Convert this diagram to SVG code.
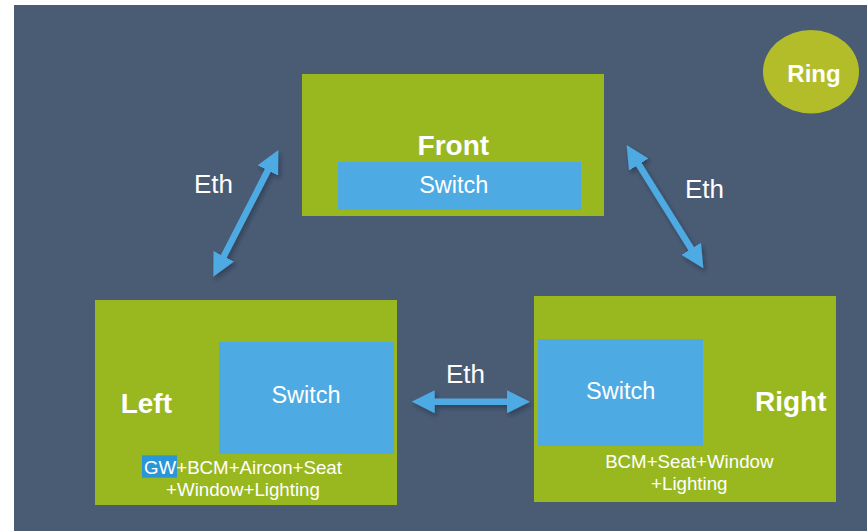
<svg xmlns="http://www.w3.org/2000/svg" width="867" height="531" viewBox="0 0 867 531">
  <style>
    .box { fill: #99b81f; }
    .sw { fill: #4eaae2; }
    .t { font-family: "Liberation Sans", Arial, sans-serif; fill: #ffffff; }
    .title { font-size: 28px; font-weight: bold; }
    .swt { font-size: 23.5px; }
    .small { font-size: 18.7px; }
    .eth { font-size: 26px; }
    .conn { stroke: #4eaae2; stroke-width: 6.5; fill: none; marker-start: url(#head); marker-end: url(#head); }
  </style>
  <defs>
    <marker id="head" viewBox="0 0 23 23" refX="3" refY="11.5" markerWidth="23" markerHeight="23" markerUnits="userSpaceOnUse" orient="auto-start-reverse">
      <path d="M0,0 L23,11.5 L0,23 z" fill="#4eaae2"/>
    </marker>
    <filter id="shadow" x="-20%" y="-20%" width="140%" height="140%">
      <feDropShadow dx="2" dy="3" stdDeviation="2" flood-color="#1d2635" flood-opacity="0.45"/>
    </filter>
  </defs>

  <rect x="0" y="0" width="867" height="531" fill="#ffffff"/>
  <rect x="14" y="5" width="853" height="526" fill="#4a5b74"/>

  <g id="ring">
    <ellipse cx="811" cy="71.7" rx="48" ry="41.7" fill="#b3bd2a"/>
    <text class="t" x="814" y="81.5" font-size="24" font-weight="bold" text-anchor="middle">Ring</text>
  </g>

  <g id="front">
    <rect class="box" x="302" y="74" width="302" height="142"/>
    <text class="t title" x="453.3" y="155" text-anchor="middle">Front</text>
    <rect class="sw" x="338" y="162" width="243" height="48"/>
    <text class="t swt" x="453.8" y="193" text-anchor="middle" font-size="25">Switch</text>
  </g>

  <g id="left">
    <rect class="box" x="95" y="300" width="302" height="205"/>
    <rect class="sw" x="219" y="342" width="175" height="112"/>
    <text class="t swt" x="306" y="402.7" text-anchor="middle">Switch</text>
    <text class="t title" x="120.7" y="412.7">Left</text>
    <rect x="142" y="455.3" width="35" height="22.4" fill="#2a96d8"/>
    <text class="t small" x="243" y="474" text-anchor="middle">GW+BCM+Aircon+Seat</text>
    <text class="t small" x="243" y="495.7" text-anchor="middle">+Window+Lighting</text>
  </g>

  <g id="right">
    <rect class="box" x="534" y="296" width="302" height="206"/>
    <rect class="sw" x="538" y="339" width="165" height="107"/>
    <text class="t swt" x="620.7" y="399.3" text-anchor="middle">Switch</text>
    <text class="t title" x="755" y="410.7">Right</text>
    <text class="t small" x="689.3" y="467.7" text-anchor="middle">BCM+Seat+Window</text>
    <text class="t small" x="689.3" y="490" text-anchor="middle">+Lighting</text>
  </g>

  <g id="connectors">
    <g filter="url(#shadow)">
      <line class="conn" x1="222.4" y1="258.9" x2="269.2" y2="167.8"/>
      <line class="conn" x1="637.2" y1="162.0" x2="692.8" y2="251.3"/>
      <line class="conn" x1="431.7" y1="401.7" x2="510" y2="401.7"/>
    </g>
    <text class="t eth" x="194" y="193.3">Eth</text>
    <text class="t eth" x="446" y="383.3">Eth</text>
    <text class="t eth" x="685" y="198.3">Eth</text>
  </g>
</svg>
